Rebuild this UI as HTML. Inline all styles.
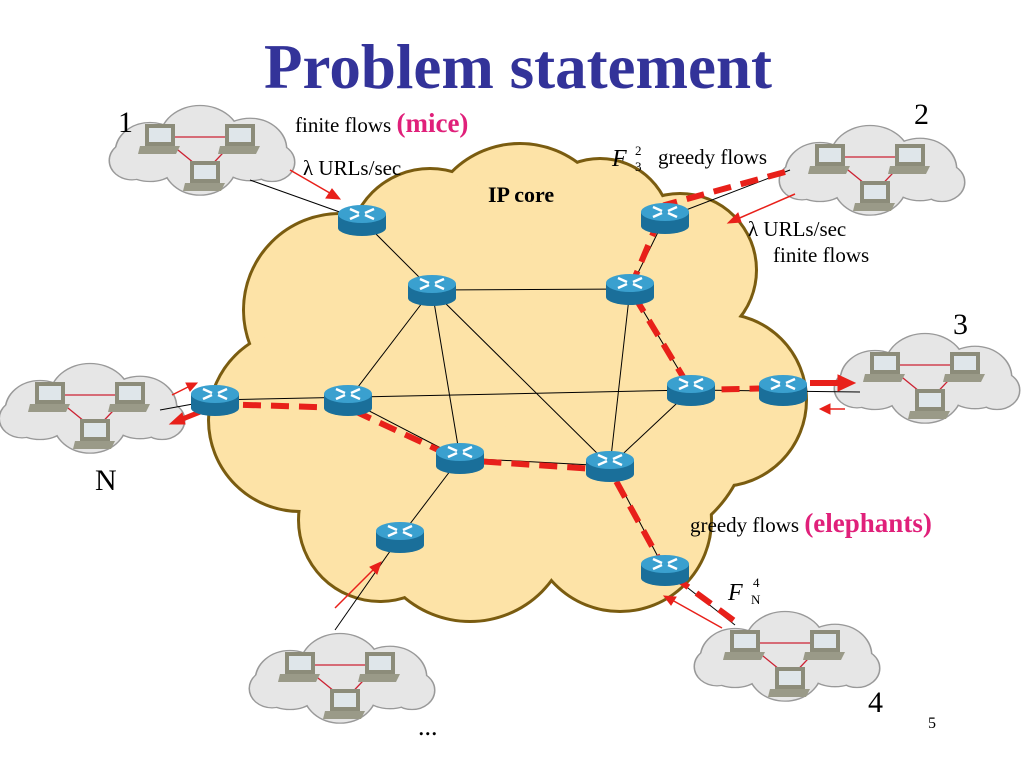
<!DOCTYPE html>
<html><head><meta charset="utf-8"><style>
body{margin:0;background:#fff;width:1024px;height:768px;overflow:hidden}
svg{display:block}
text{font-family:"Liberation Serif",serif}
</style></head><body>
<svg width="1024" height="768" viewBox="0 0 1024 768">
<defs>
<g id="router">
<rect x="-24" y="-6" width="48" height="14" fill="#1a6f9a"/>
<ellipse cx="0" cy="8" rx="24" ry="8" fill="#1a6f9a"/>
<ellipse cx="0" cy="-6" rx="24" ry="9" fill="#3aa0cf"/>
<path d="M-12,-11 L-3,-7 M12,-11 L3,-7 M-12,-1 L-3,-5 M12,-1 L3,-5" stroke="#fff" stroke-width="2.5"/>
</g>
<g id="pc">
<rect x="-15" y="-16" width="30" height="22" fill="#8c8c7a"/>
<rect x="-11" y="-12" width="22" height="14" fill="#dfe6ea"/>
<path d="M-20,6 L20,6 L16,14 L-22,14 Z" fill="#9a9a88"/>
</g>
<g id="cshape">
<circle cx="-50" cy="0" r="34"/><circle cx="0" cy="-14" r="40"/><circle cx="50" cy="-3" r="36"/><circle cx="0" cy="14" r="36"/><circle cx="-68" cy="10" r="22"/><circle cx="72" cy="12" r="22"/>
</g>
<g id="client">
<g transform="scale(1,0.85)">
<use href="#cshape" fill="#ccc" stroke="#999" stroke-width="3"/>
<use href="#cshape" fill="#e6e6e6"/>
</g>
<path d="M-38,-15 L38,-15 L5,20 Z" fill="none" stroke="#c23" stroke-width="1.3"/>
<use href="#pc" x="-40" y="-12"/><use href="#pc" x="40" y="-12"/><use href="#pc" x="5" y="25"/>
</g>
<g id="core">
<circle cx="340" cy="310" r="95"/><circle cx="520" cy="240" r="95"/><circle cx="680" cy="270" r="75"/><circle cx="300" cy="420" r="90"/><circle cx="450" cy="420" r="140"/><circle cx="620" cy="420" r="130"/><circle cx="720" cy="400" r="85"/><circle cx="470" cy="520" r="100"/><circle cx="620" cy="520" r="90"/><circle cx="380" cy="520" r="80"/><circle cx="600" cy="230" r="70"/><circle cx="430" cy="250" r="80"/>
</g>
</defs>

<text x="518" y="88" text-anchor="middle" font-size="63" font-weight="bold" fill="#333399">Problem statement</text>

<use href="#core" fill="#fde3a7" stroke="#7a5c10" stroke-width="6"/>
<use href="#core" fill="#fde3a7"/>

<!-- clients -->
<use href="#client" x="200" y="152"/>
<use href="#client" x="870" y="172"/>
<use href="#client" x="925" y="380"/>
<use href="#client" x="90" y="410"/>
<use href="#client" x="785" y="658"/>
<use href="#client" x="340" y="680"/>

<!-- links -->
<g stroke="#000" stroke-width="1" fill="none">
<line x1="250" y1="180" x2="362" y2="220"/>
<line x1="362" y1="220" x2="432" y2="290"/>
<line x1="432" y1="290" x2="630" y2="289"/>
<line x1="630" y1="289" x2="665" y2="218"/>
<line x1="665" y1="218" x2="790" y2="170"/>
<line x1="630" y1="289" x2="691" y2="390"/>
<line x1="630" y1="289" x2="610" y2="466"/>
<line x1="691" y1="390" x2="860" y2="392"/>
<line x1="215" y1="400" x2="691" y2="390"/>
<line x1="432" y1="290" x2="348" y2="400"/>
<line x1="432" y1="290" x2="460" y2="458"/>
<line x1="432" y1="290" x2="610" y2="466"/>
<line x1="348" y1="400" x2="460" y2="458"/>
<line x1="460" y1="458" x2="610" y2="466"/>
<line x1="460" y1="458" x2="400" y2="537"/>
<line x1="610" y1="466" x2="691" y2="390"/>
<line x1="610" y1="466" x2="665" y2="570"/>
<line x1="665" y1="570" x2="735" y2="625"/>
<line x1="400" y1="537" x2="335" y2="630"/>
<line x1="160" y1="410" x2="215" y2="400"/>
</g>

<g stroke="#e8201a" stroke-width="6" stroke-dasharray="18,10" fill="none">
<path d="M785,172 L665,205 L630,289 L691,390 L783,388"/>
<path d="M215,404 L348,408 L460,460 L610,470 L665,570 L740,625"/>
</g>
<g stroke="#e8201a" fill="#e8201a">
<line x1="290" y1="170" x2="335" y2="196" stroke-width="1.5"/><path d="M340,199 L326,198 L332,189 Z"/>
<line x1="795" y1="194" x2="735" y2="220" stroke-width="1.5"/><path d="M728,223 L738,213 L741,222 Z"/>
<line x1="810" y1="383" x2="840" y2="383" stroke-width="6"/><path d="M855,383 L838,375 L838,391 Z"/>
<line x1="845" y1="409" x2="828" y2="409" stroke-width="1.5"/><path d="M820,409 L830,404 L830,414 Z"/>
<line x1="172" y1="395" x2="190" y2="386" stroke-width="1.5"/><path d="M197,383 L186,383 L190,391 Z"/>
<line x1="200" y1="412" x2="180" y2="420" stroke-width="5"/><path d="M170,424 L182,413 L185,424 Z"/>
<line x1="335" y1="608" x2="375" y2="568" stroke-width="1.5"/><path d="M381,562 L377,574 L370,567 Z"/>
<line x1="722" y1="628" x2="672" y2="600" stroke-width="1.5"/><path d="M664,596 L676,597 L671,605 Z"/>
</g>

<use href="#router" x="362" y="220"/>
<use href="#router" x="432" y="290"/>
<use href="#router" x="630" y="289"/>
<use href="#router" x="665" y="218"/>
<use href="#router" x="215" y="400"/>
<use href="#router" x="348" y="400"/>
<use href="#router" x="460" y="458"/>
<use href="#router" x="610" y="466"/>
<use href="#router" x="691" y="390"/>
<use href="#router" x="783" y="390"/>
<use href="#router" x="400" y="537"/>
<use href="#router" x="665" y="570"/>

<g font-size="21" fill="#000">
<text x="295" y="132">finite flows <tspan fill="#e0207a" font-weight="bold" font-size="27">(mice)</tspan></text>
<text x="303" y="175">λ  URLs/sec</text>
<text x="488" y="202" font-weight="bold" font-size="22">IP core</text>
<text x="612" y="166" font-style="italic" font-size="24">F</text>
<text x="635" y="155" font-size="13">2</text><text x="635" y="171" font-size="13">3</text>
<text x="658" y="164">greedy flows</text>
<text x="748" y="236">λ  URLs/sec</text>
<text x="773" y="262">finite flows</text>
<text x="690" y="532">greedy flows <tspan fill="#e0207a" font-weight="bold" font-size="27">(elephants)</tspan></text>
<text x="728" y="600" font-style="italic" font-size="24">F</text>
<text x="753" y="587" font-size="13">4</text><text x="751" y="604" font-size="13">N</text>
<text x="118" y="132" font-size="30">1</text>
<text x="914" y="124" font-size="30">2</text>
<text x="953" y="334" font-size="30">3</text>
<text x="95" y="490" font-size="30">N</text>
<text x="868" y="712" font-size="30">4</text>
<text x="418" y="735" font-size="26">...</text>
<text x="928" y="728" font-size="16">5</text>
</g>
</svg>
</body></html>
